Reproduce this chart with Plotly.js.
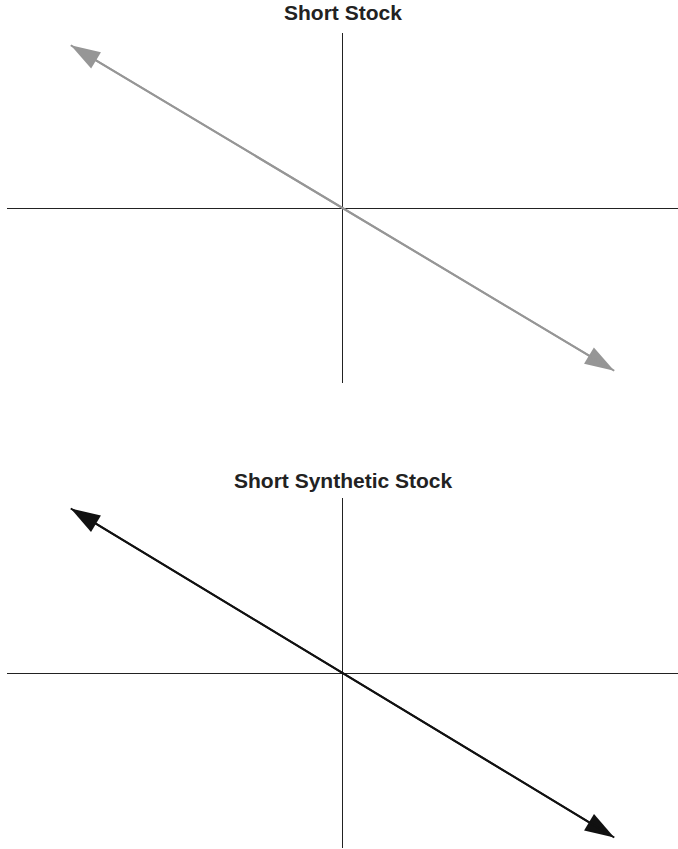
<!DOCTYPE html>
<html><head><meta charset="utf-8">
<script src="https://cdn.plot.ly/plotly-3.0.1.min.js"></script>
<style>html,body{margin:0;padding:0;background:#fff}</style>
</head><body><div id="chart" style="width:678px;height:849px"></div>
<script>
// Data (normalized stock price vs. profit/loss)
const chartTitles = ['Short Stock', 'Short Synthetic Stock'];
const stockPrice = [-0.81, 0.81];
const shortStockPL = [0.93, -0.93];
const shortSyntheticPL = [0.94, -0.94];
const lineColors = ['#969696', '#111111'];

const W = 678, H = 849;
const series = [shortStockPL, shortSyntheticPL];
const axesIds = [['x', 'y'], ['x2', 'y2']];

const traces = [];
series.forEach((pl, i) => {
  // forward direction: arrow at the right end
  traces.push({
    x: stockPrice, y: pl, xaxis: axesIds[i][0], yaxis: axesIds[i][1],
    type: 'scatter', mode: 'lines+markers', name: chartTitles[i],
    line: {color: lineColors[i], width: 2},
    marker: {symbol: 'arrow', angleref: 'previous', size: [0, 31], opacity: 1, color: lineColors[i], line: {width: 0}},
    hoverinfo: 'x+y'
  });
  // reverse direction: arrow at the left end
  traces.push({
    x: stockPrice.slice().reverse(), y: pl.slice().reverse(), xaxis: axesIds[i][0], yaxis: axesIds[i][1],
    type: 'scatter', mode: 'lines+markers', name: chartTitles[i],
    line: {color: lineColors[i], width: 2},
    marker: {symbol: 'arrow', angleref: 'previous', size: [0, 31], opacity: 1, color: lineColors[i], line: {width: 0}},
    hoverinfo: 'x+y'
  });
});

const annotations = [];
const titleY = [1 - 13 / H, 1 - 480 / H];
chartTitles.forEach((t, i) => annotations.push({
  xref: 'paper', yref: 'paper', x: 343 / W, y: titleY[i], xanchor: 'center', yanchor: 'middle',
  text: '<b>' + t + '</b>', showarrow: false,
  font: {family: '"Liberation Sans", Arial, sans-serif', size: 21, color: '#222'}
}));

const axisBase = {
  range: [-1, 1], showgrid: false, showticklabels: false, ticks: '', showline: false,
  zeroline: true, zerolinecolor: '#222', zerolinewidth: 1, fixedrange: true
};
const layout = {
  width: W, height: H, margin: {l: 0, r: 0, t: 0, b: 0},
  paper_bgcolor: '#fff', plot_bgcolor: '#fff', showlegend: false,
  xaxis: Object.assign({}, axisBase, {domain: [7 / W, 1], anchor: 'y'}),
  yaxis: Object.assign({}, axisBase, {domain: [1 - 383 / H, 1 - 33 / H], anchor: 'x'}),
  xaxis2: Object.assign({}, axisBase, {domain: [7 / W, 1], anchor: 'y2'}),
  yaxis2: Object.assign({}, axisBase, {domain: [1 - 848 / H, 1 - 498 / H], anchor: 'x2'}),
  annotations: annotations
};
Plotly.newPlot('chart', traces, layout, {displayModeBar: false, staticPlot: true});
</script></body></html>
